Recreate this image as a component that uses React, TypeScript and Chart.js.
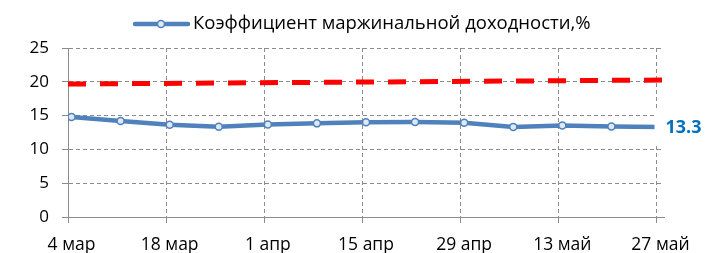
import React, { useEffect, useRef } from "react";
import { Chart, registerables } from "chart.js";

Chart.register(...registerables);

const xTickDays = [0, 14, 28, 42, 56, 70, 84];
const xTickLabels = ["4 мар", "18 мар", "1 апр", "15 апр", "29 апр", "13 май", "27 май"];
const seriesName = "Коэффициент маржинальной доходности,%";
const pointDays = [0, 7, 14, 21, 28, 35, 42, 49, 56, 63, 70, 77, 84];
const marginValues = [14.8, 14.2, 13.65, 13.35, 13.7, 13.85, 14.0, 14.05, 13.95, 13.3, 13.55, 13.4, 13.3];
const trendDays = [0, 86];
const trendValues = [19.67, 20.27];
const lastLabel = "13.3";

const FONT = "'Open Sans', 'Noto Sans', sans-serif";
const BLUE = "#4F81BD";
const GRID = "#8c8c8c";

const overlayPlugin = {
  id: "overlay",
  afterDatasetsDraw(chart: any) {
    const ctx = chart.ctx;
    const meta = chart.getDatasetMeta(0);
    const pts = meta.data;
    const last = pts[pts.length - 1];
    ctx.save();
    // data label with white box
    ctx.fillStyle = "#ffffff";
    ctx.fillRect(last.x - 6, last.y - 19, 708 - (last.x - 6), 38);
    ctx.fillStyle = "#0070C0";
    ctx.font = `bold 18px ${FONT}`;
    ctx.textAlign = "left";
    ctx.textBaseline = "middle";
    ctx.fillText(lastLabel, last.x + 5, last.y + 1);
    // legend
    const ly = 24;
    ctx.strokeStyle = BLUE;
    ctx.lineWidth = 4.5;
    ctx.lineCap = "round";
    ctx.beginPath();
    ctx.moveTo(135, ly);
    ctx.lineTo(188, ly);
    ctx.stroke();
    ctx.beginPath();
    ctx.arc(161, ly, 3.5, 0, Math.PI * 2);
    ctx.fillStyle = "#e0e8f4";
    ctx.fill();
    ctx.lineWidth = 1.5;
    ctx.stroke();
    ctx.fillStyle = "#000000";
    ctx.font = `18.5px ${FONT}`;
    ctx.textBaseline = "middle";
    ctx.fillText(seriesName, 193, ly);
    ctx.restore();
  },
};

export default function App() {
  const ref = useRef<HTMLCanvasElement | null>(null);
  useEffect(() => {
    if (!ref.current) return;
    const chart = new Chart(ref.current, {
      type: "line",
      data: {
        datasets: [
          {
            label: seriesName,
            data: marginValues.map((v, i) => ({ x: pointDays[i] + 0.5, y: v })),
            borderColor: BLUE,
            borderWidth: 4.5,
            pointRadius: 3.5,
            pointBorderWidth: 1.5,
            pointBackgroundColor: "#e0e8f4",
            pointBorderColor: BLUE,
            tension: 0,
          },
          {
            label: "trend",
            data: trendValues.map((v, i) => ({ x: trendDays[i], y: v })),
            borderColor: "#ff0000",
            borderWidth: 5,
            borderDash: [18, 14],
            borderCapStyle: "butt",
            pointRadius: 0,
            clip: false as any,
          },
        ],
      },
      options: {
        animation: false,
        responsive: true,
        maintainAspectRatio: false,
        layout: { padding: { top: 48, right: 44, left: 0, bottom: 0 } },
        plugins: { legend: { display: false }, tooltip: { enabled: false } },
        scales: {
          x: {
            type: "linear",
            min: 0,
            max: 85,
            afterBuildTicks: (s: any) => {
              s.ticks = xTickDays.map((v) => ({ value: v }));
            },
            afterFit: (s: any) => {
              s.height = 36;
            },
            ticks: {
              callback: (v: any) => {
                const i = xTickDays.indexOf(Number(v));
                return i >= 0 ? xTickLabels[i] : "";
              },
              labelOffset: 3.5,
              padding: 12,
              maxRotation: 0,
              autoSkip: false,
              color: "#000",
              font: { family: FONT, size: 17.5 },
            },
            grid: { color: GRID, tickLength: 6, tickBorderDash: [], lineWidth: 1 },
            border: { display: true, color: GRID, width: 1, dash: [4, 3] },
          },
          y: {
            min: 0,
            max: 25,
            afterFit: (s: any) => {
              s.width = 68;
            },
            ticks: {
              stepSize: 5,
              padding: 13,
              color: "#000",
              font: { family: FONT, size: 17 },
            },
            grid: { color: GRID, tickLength: 6, tickBorderDash: [], lineWidth: 1 },
            border: { display: true, color: GRID, width: 1, dash: [4, 3] },
          },
        },
      },
      plugins: [overlayPlugin],
    });
    return () => chart.destroy();
  }, []);
  return (
    <div style={{ position: "fixed", left: 0, top: 0, width: 708, height: 253, background: "#fff" }}>
      <canvas ref={ref} />
    </div>
  );
}
